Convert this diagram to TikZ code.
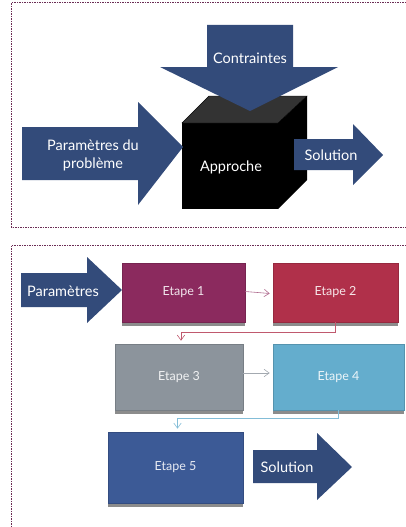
\documentclass[tikz,border=0pt]{standalone}
\usepackage{fontspec}
\setmainfont{Lato}
\usepackage{xcolor}
\usepackage{tikz}
\usetikzlibrary{arrows.meta,positioning,calc,shadows}
\definecolor{arrblue}{HTML}{334B7A}
\definecolor{framepurple}{HTML}{6B2D55}
\definecolor{stepone}{HTML}{8B2A5E}
\definecolor{steptwo}{HTML}{B0304A}
\definecolor{stepthree}{HTML}{8C949C}
\definecolor{stepfour}{HTML}{64ADCD}
\definecolor{stepfive}{HTML}{3C5A96}
\definecolor{cubetop}{HTML}{333333}

\begin{document}
\begin{tikzpicture}[
    x=1pt, y=-1pt,
    frame/.style={draw=framepurple, line width=0.8pt, dash pattern=on 1.5pt off 1pt},
    blockarrow/.style={fill=arrblue},
    label/.style={font=\fontsize{14.5}{18}\selectfont, text=white, align=center},
    etape/.style={rectangle, draw=#1!85!black, line width=0.6pt, fill=#1, inner sep=0pt,
                  drop shadow={shadow xshift=0pt, shadow yshift=-3.5pt, fill=black, opacity=0.45},
                  font=\fontsize{12.5}{14}\selectfont, text=white!88!#1},
    link/.style={-{Straight Barb[length=1.8mm, width=2.6mm]}, line width=0.6pt}
]
\useasboundingbox (0,0) rectangle (405,527);

% Frames
\draw[frame] (406,2.5) -- (11.5,2.5) -- (11.5,227) -- (406,227);
\draw[frame] (406,245) -- (11.5,245) -- (11.5,530);

% Black box
\fill[black] (182,123) rectangle (278,209);
\filldraw[fill=cubetop, draw=black] (182,123) -- (209,96) -- (307,96) -- (278,123) -- cycle;
\fill[black] (278,123) -- (307,96) -- (307,180) -- (278,209) -- cycle;

% Block arrows (top)
\fill[blockarrow] (207,25) -- (293,25) -- (293,67) -- (338,67) -- (250,111)
    -- (160,67) -- (207,67) -- cycle;
\fill[blockarrow] (22,127) -- (138,127) -- (138,102) -- (183,147) -- (138,205)
    -- (138,180) -- (22,180) -- cycle;
\fill[blockarrow] (294,139) -- (353,139) -- (353,124) -- (383,155) -- (353,185)
    -- (353,170) -- (294,170) -- cycle;

\node[label] (cons) at (250,58) {Contraintes};
\node[label] (params) at (93,155) {Paramètres du\\problème};
\node[label] (sol) at (331,155) {Solution};
\node[label] (appr) at (231,167) {Approche};

% Block arrows (bottom)
\fill[blockarrow] (21,273) -- (87,273) -- (87,257) -- (122,290) -- (87,323)
    -- (87,307) -- (21,307) -- cycle;
\fill[blockarrow] (253,450) -- (317,450) -- (317,433) -- (352,467) -- (317,500)
    -- (317,483) -- (253,483) -- cycle;

\node[label] (paramsb) at (63,291) {Paramètres};
\node[label] (solb) at (287,467) {Solution};

% Steps
\node[etape=stepone, minimum width=123pt, minimum height=59pt] (e1) at (183.5,292.5) {Etape 1};
\node[etape=steptwo, minimum width=125pt, minimum height=59pt] (e2) at (335.5,292.5) {Etape 2};
\node[etape=stepthree, minimum width=128pt, minimum height=66pt] (e3) at (179,377) {Etape 3};
\node[etape=stepfour, minimum width=131pt, minimum height=66pt] (e4) at (338.5,377) {Etape 4};
\node[etape=stepfive, minimum width=135pt, minimum height=71pt] (e5) at (175.5,467.5) {Etape 5};

\draw[link, draw=stepone!70!white] (e1.east) ++(0,-1) -- ([xshift=-3pt,yshift=-1pt]e2.west);
\draw[link, draw=steptwo!80!white] (e2.south) -- ++(0,10) -| ([xshift=2pt,yshift=3pt]e3.north);
\draw[link, draw=stepthree!80!white] ([yshift=4pt]e3.east) -- ([xshift=-3pt,yshift=4pt]e4.west);
\draw[link, draw=stepfour!80!white] (e4.south) -- ++(0,8) -| ([xshift=2pt,yshift=3pt]e5.north);
\end{tikzpicture}
\end{document}
